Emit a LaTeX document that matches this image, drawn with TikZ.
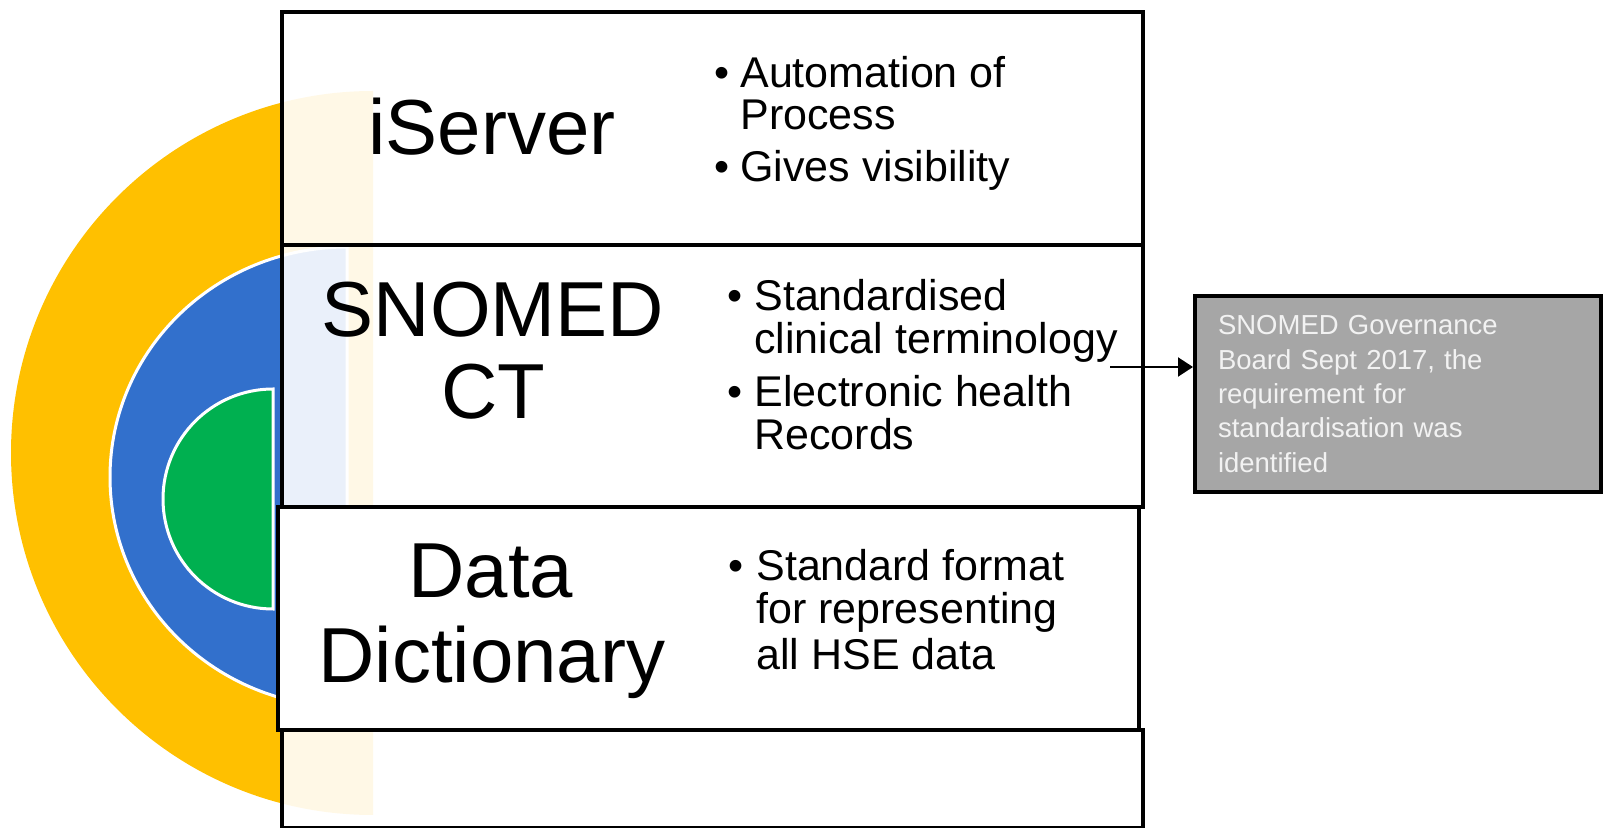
\documentclass[tikz,border=0pt]{standalone}
\usepackage{fontspec}
\setmainfont{Liberation Sans}
\usetikzlibrary{arrows.meta}
\definecolor{hseyellow}{RGB}{255,192,0}
\definecolor{hseblue}{RGB}{50,112,204}
\definecolor{hsegreen}{RGB}{0,176,80}
\definecolor{notegray}{RGB}{166,166,166}
\begin{document}
\begin{tikzpicture}[x=0.5pt,y=-0.5pt,
  panel/.style={draw=black, line width=2pt, fill=white, fill opacity=0.9, anchor=north west, inner sep=0pt, minimum width=430.5pt},
  title/.style={font=\fontsize{39}{42}\selectfont, anchor=base, inner sep=0pt},
  dot/.style={font=\fontsize{21.5}{21.5}\selectfont, anchor=base, inner sep=0pt},
  item/.style={font=\fontsize{21.5}{21.5}\selectfont, anchor=base west, inner sep=0pt},
  note/.style={draw=black, line width=2pt, fill=notegray, text=white!95!black, font=\fontsize{13.75}{17.2}\selectfont, align=left, text width=180pt, inner xsep=11.5pt, inner ysep=0pt, minimum height=98pt, anchor=north west}]
\useasboundingbox (0,0) rectangle (1603,828);
\fill[hseyellow] (373,91) arc[start angle=-90, end angle=-270, radius=362] -- cycle;
\filldraw[fill=hseblue, draw=white, line width=1.5pt] (347,247) arc[start angle=-90, end angle=-270, x radius=237, y radius=230] -- cycle;
\filldraw[fill=hsegreen, draw=white, line width=1.5pt] (273,389) arc[start angle=-90, end angle=-270, radius=110] -- cycle;
\node[panel, minimum height=116.5pt] (iserverbox) at (280,10) {};
\node[panel, minimum height=131pt] (snomedbox) at (280,243) {};
\node[panel, minimum height=111.5pt, fill opacity=1] (dictbox) at (276,505) {};
\node[panel, minimum height=49pt] (emptybox) at (280,728) {};
\node[title] (iserver) at (492,155) {iServer};
\node[title] (snomed) at (493,337) {SNOMED};
\node[title] (ct) at (493,419) {CT};
\node[title] (data) at (491,598) {Data};
\node[title] (dictionary) at (492,683) {Dictionary};
\node[dot] (dot1) at (722,88) {\textbullet};
\node[item] (automation) at (740,88) {Automation of};
\node[item] (process) at (740,130) {Process};
\node[dot] (dot2) at (722,182) {\textbullet};
\node[item] (visibility) at (740,182) {Gives visibility};
\node[dot] (dot3) at (735,311) {\textbullet};
\node[item] (standardised) at (754,311) {Standardised};
\node[item] (clinical) at (754,354) {clinical terminology};
\node[dot] (dot4) at (735,407) {\textbullet};
\node[item] (electronic) at (754,407) {Electronic health};
\node[item] (records) at (754,450) {Records};
\node[dot] (dot5) at (736,581) {\textbullet};
\node[item] (format) at (756,581) {Standard format};
\node[item] (representing) at (756,624) {for representing};
\node[item] (hsedata) at (756,670) {all HSE data};
\node[note] (governance) at (1193,294) {SNOMED Governance\\Board Sept 2017, the\\requirement for\\standardisation was\\identified};
\coordinate (arrowstart) at (1110,367);
\draw[-{Triangle[length=7.5pt,width=9.5pt]}, line width=1pt] (arrowstart) -- (arrowstart -| governance.west);
\end{tikzpicture}
\end{document}
